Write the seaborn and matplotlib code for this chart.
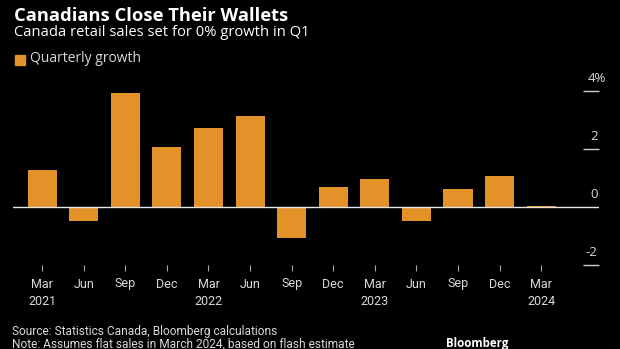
import matplotlib
matplotlib.use("Agg")
import matplotlib.pyplot as plt
import matplotlib.transforms as mtrans
import seaborn as sns
import pandas as pd

quarters = ["Mar 2021", "Jun 2021", "Sep 2021", "Dec 2021", "Mar 2022", "Jun 2022",
            "Sep 2022", "Dec 2022", "Mar 2023", "Jun 2023", "Sep 2023", "Dec 2023", "Mar 2024"]
growth = [1.28, -0.50, 3.94, 2.08, 2.71, 3.15, -1.06, 0.68, 0.97, -0.48, 0.62, 1.07, 0.03]
tick_labels = ["Mar\n2021", "Jun", "Sep", "Dec", "Mar\n2022", "Jun", "Sep", "Dec",
               "Mar\n2023", "Jun", "Sep", "Dec", "Mar\n2024"]
y_ticks = [4, 2, 0, -2]
y_tick_labels = ["4%", "2", "0", "-2"]

sns.set_theme(style="dark")
BG = "#000000"
BAR = "#E39129"
TXT = "#d9d9d9"
plt.rcParams["font.family"] = ["Open Sans", "DejaVu Sans"]
NARROW = ["Roboto", "DejaVu Sans"]

fig = plt.figure(figsize=(6.2, 3.49), dpi=100, facecolor=BG)
ax = fig.add_axes([13/620, 1-265/349, 586/620, 190/349])
ax.set_facecolor(BG)

df = pd.DataFrame({"quarter": quarters, "growth": growth})
sns.barplot(data=df, x="quarter", y="growth", color=BAR, saturation=1, width=0.70,
            linewidth=0, edgecolor="none", ax=ax)

ax.set_xlim(-0.70, 13.39)
ax.set_ylim(-2.0, 4.55)
for s in ax.spines.values():
    s.set_visible(False)
ax.grid(False)
ax.set_xlabel("")
ax.set_ylabel("")
ax.axhline(0, color="#e6e6e6", lw=1.0, zorder=3)

ax.set_xticks(range(len(tick_labels)))
ax.set_xticklabels(tick_labels, color=TXT, fontsize=9, linespacing=1.45, family=NARROW)
ax.tick_params(axis="x", bottom=True, length=4, width=0.8, color="#aaaaaa", pad=5)
ax.set_yticks([])

ytrans = ax.get_yaxis_transform()
ax.hlines([t for t in y_ticks if t != 0], 0.973, 1.0, transform=ytrans, color="#cccccc",
          lw=1.0, clip_on=False)
lab_tr = mtrans.offset_copy(ytrans, fig=fig, x=0, y=9, units="points")
for t, lab in zip(y_ticks, y_tick_labels):
    xa = 1.012 if lab.endswith("%") else 0.998
    ax.text(xa, t, lab, transform=lab_tr, ha="right", va="center", color=TXT, fontsize=9.5)

fig.text(14/620, 1-16/349, "Canadians Close Their Wallets", color="white", fontsize=13.2,
         fontweight="bold", va="center")
fig.text(14/620, 1-33/349, "Canada retail sales set for 0% growth in Q1", color="white",
         fontsize=10.6, va="center")
fig.patches.append(plt.Rectangle((15/620, 1-65/349), 10/620, 10/349, transform=fig.transFigure,
                                 color=BAR, figure=fig))
fig.text(30/620, 1-59/349, "Quarterly growth", color=TXT, fontsize=10, va="center")

fig.text(12/620, 1-332/349, "Source: Statistics Canada, Bloomberg calculations", color=TXT,
         fontsize=8.6, va="center", family=NARROW)
fig.text(12/620, 1-344/349, "Note: Assumes flat sales in March 2024, based on flash estimate",
         color=TXT, fontsize=8.6, va="center", family=NARROW)
fig.text(508/620, 1-344/349, "Bloomberg", color="white", fontsize=8.3, fontweight="bold",
         ha="right", va="center")

fig.savefig("out.png", dpi=100, facecolor=BG)
